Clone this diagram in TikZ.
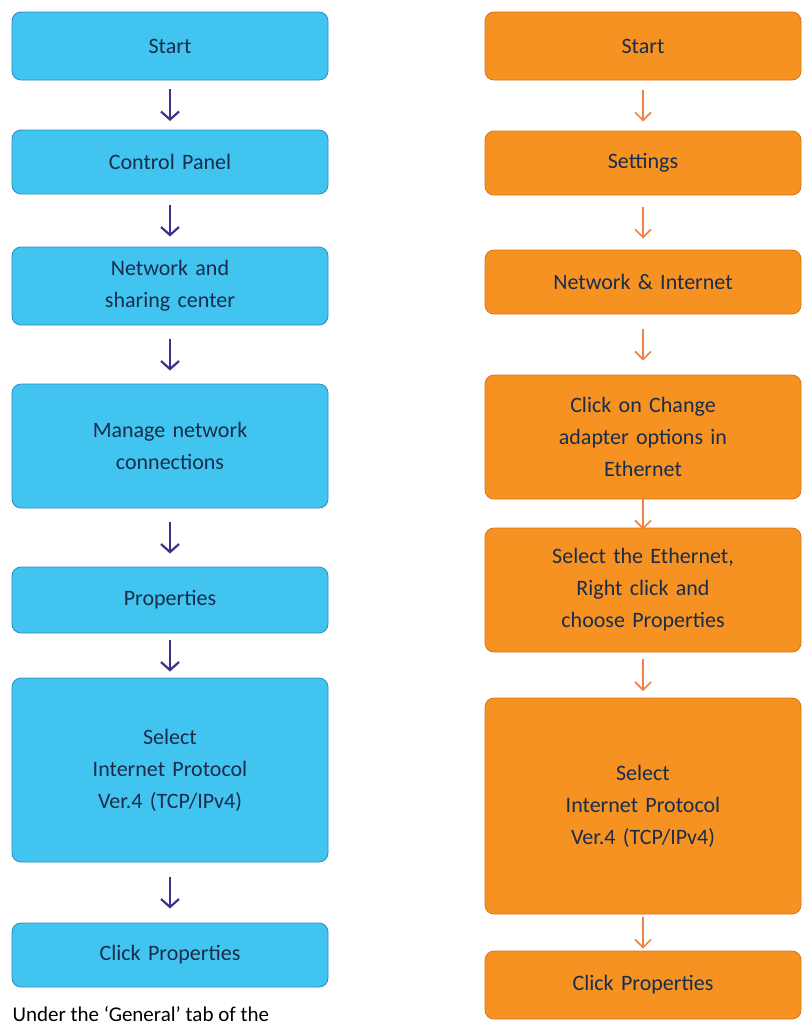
\documentclass[tikz,border=0pt]{standalone}
\usepackage{fontspec}
\setmainfont{Carlito}
\usepackage{tikz}
\usetikzlibrary{arrows.meta, calc}
\definecolor{winSevenFill}{RGB}{66,196,240}
\definecolor{winSevenLine}{RGB}{45,140,190}
\definecolor{winSevenArrow}{RGB}{60,50,140}
\definecolor{winTenFill}{RGB}{245,146,34}
\definecolor{winTenLine}{RGB}{215,115,20}
\definecolor{winTenArrow}{RGB}{240,130,70}
\definecolor{stepText}{RGB}{25,45,75}
\tikzstyle{chart} = [x = 1pt, y = -1pt]
\tikzstyle{stepStyle} = [draw, rounded corners = 9pt, thick, minimum width = 316pt, text width = 300pt, align = center, text = stepText, font = \fontsize{22}{32}\selectfont]
\tikzstyle{sevenStep} = [stepStyle, fill = winSevenFill, draw = winSevenLine]
\tikzstyle{tenStep} = [stepStyle, fill = winTenFill, draw = winTenLine]
\tikzstyle{sevenArrow} = [-{Straight Barb[length = 8pt, width = 18pt]}, line width = 2.2pt, color = winSevenArrow]
\tikzstyle{tenArrow} = [-{Straight Barb[length = 8pt, width = 16pt]}, line width = 1.6pt, color = winTenArrow]
\newcommand{\sevenStepAt}[4]{\node [sevenStep, minimum height = #3] (#1) at (170, #2) {#4};}
\newcommand{\tenStepAt}[4]{\node [tenStep, minimum height = #3] (#1) at (643, #2) {#4};}
\newcommand{\stepArrow}[3]{\draw [#3] ($(#1.south)!0.5!(#2.north) + (0,-16)$) -- ($(#1.south)!0.5!(#2.north) + (0,16)$);}

\begin{document}
\begin{tikzpicture}[chart]
  \useasboundingbox (0,0) rectangle (806,1034);

  % left column
  \sevenStepAt{sStart}{46}{68pt}{Start}
  \sevenStepAt{sPanel}{162}{64pt}{Control Panel}
  \sevenStepAt{sSharing}{286}{78pt}{Network and\\sharing center}
  \sevenStepAt{sManage}{446}{124pt}{Manage network\\connections}
  \sevenStepAt{sProps}{600}{66pt}{Properties}
  \sevenStepAt{sProtocol}{770}{184pt}{Select\\Internet Protocol\\Ver.4 (TCP/IPv4)}
  \sevenStepAt{sClick}{955}{64pt}{Click Properties}
  \foreach \from/\to in {sStart/sPanel, sPanel/sSharing, sSharing/sManage, sManage/sProps, sProps/sProtocol, sProtocol/sClick} {
    \stepArrow{\from}{\to}{sevenArrow}
  }
  \node [anchor = west, font = \fontsize{21}{24}\selectfont] (sNote) at (9, 1014) {Under the ‘General’ tab of the};

  % right column
  \tenStepAt{tStart}{46}{68pt}{Start}
  \tenStepAt{tSettings}{163}{64pt}{Settings}
  \tenStepAt{tNetwork}{282}{64pt}{Network \& Internet}
  \tenStepAt{tAdapter}{437}{124pt}{Click on Change\\adapter options in\\Ethernet}
  \tenStepAt{tEthernet}{590}{124pt}{Select the Ethernet,\\Right click and\\choose Properties}
  \tenStepAt{tProtocol}{806}{216pt}{Select\\Internet Protocol\\Ver.4 (TCP/IPv4)}
  \tenStepAt{tClick}{985}{68pt}{Click Properties}
  \foreach \from/\to in {tStart/tSettings, tSettings/tNetwork, tNetwork/tAdapter, tAdapter/tEthernet, tEthernet/tProtocol, tProtocol/tClick} {
    \stepArrow{\from}{\to}{tenArrow}
  }
\end{tikzpicture}
\end{document}
